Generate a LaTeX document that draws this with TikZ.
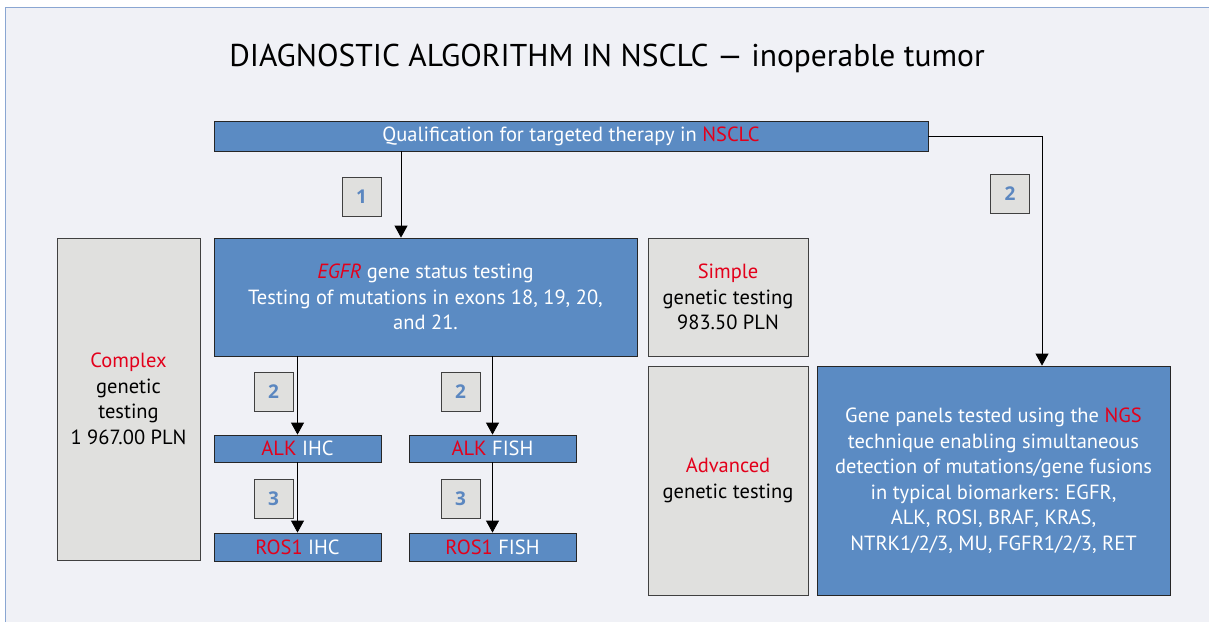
\documentclass[tikz,border=0pt]{standalone}
\usepackage{fontspec}
\setmainfont{PT Sans}
\newfontfamily\badgefont{Open Sans}
\usetikzlibrary{arrows.meta}

\definecolor{boxblue}{HTML}{5B8BC3}
\definecolor{boxgray}{HTML}{E0E0DE}
\definecolor{pagebg}{HTML}{F0F1F6}
\definecolor{framecol}{HTML}{8AA6D2}
\definecolor{hlred}{HTML}{E3001B}
\definecolor{numblue}{HTML}{5B87C0}

\newcommand{\hl}[1]{\textcolor{hlred}{#1}}

\begin{document}
\begin{tikzpicture}[%
    x=1pt, y=-1pt,
    font=\fontsize{20.5}{25.5}\selectfont,
    bluebox/.style={
      rectangle,
      draw=black!85,
      thick,
      fill=boxblue,
      text=white,
      align=center,
      inner sep=0pt
    },
    graybox/.style={
      rectangle,
      draw=black!75,
      thick,
      fill=boxgray,
      text=black,
      align=center,
      inner sep=0pt
    },
    badge/.style={
      graybox,
      minimum width=39pt,
      minimum height=39pt,
      text=numblue,
      font=\badgefont\bfseries\fontsize{19}{20}\selectfont
    },
    arr/.style={
      -{Triangle[width=13pt,length=12pt]},
      thick
    }
  ]
    \useasboundingbox (0,0) rectangle (1209,622);
    \fill[white] (0,0) rectangle (1209,622);
    \fill[pagebg] (5,7) rectangle (1209,622);
    \draw[framecol, thick] (5,622) -- (5,7) -- (1209,7);

    \draw (607,58) node (title) {\fontsize{31.5}{34}\selectfont
      DIAGNOSTIC ALGORITHM IN NSCLC --- inoperable tumor};

    \draw (571,136) node[bluebox, minimum width=714pt, minimum height=30pt] (qual)
      {Qualification for targeted therapy in \hl{NSCLC}};

    \draw (425.5,297) node[bluebox, minimum width=423pt, minimum height=118pt] (egfr)
      {\hl{\itshape EGFR} gene status testing\\
       Testing of mutations in exons 18, 19, 20,\\
       and 21.};
    \draw (728,297) node[graybox, minimum width=160pt, minimum height=118pt] (simple)
      {\hl{Simple}\\ genetic testing\\ 983.50 PLN};
    \draw (128.5,399) node[graybox, minimum width=143pt, minimum height=322pt] (complex)
      {\hl{Complex}\\ genetic\\ testing\\ 1 967.00 PLN};
    \draw (728,480.5) node[graybox, minimum width=160pt, minimum height=229pt] (advanced)
      {\hl{Advanced}\\ genetic testing};
    \draw (993.5,480.5) node[bluebox, minimum width=353pt, minimum height=229pt] (ngs)
      {Gene panels tested using the \hl{NGS}\\
       technique enabling simultaneous\\
       detection of mutations/gene fusions\\
       in typical biomarkers: EGFR,\\
       ALK, ROSI, BRAF, KRAS,\\
       NTRK1/2/3, MU, FGFR1/2/3, RET};

    \draw (297.5,448.5) node[bluebox, minimum width=167pt, minimum height=27pt] (alkihc)
      {\hl{ALK} IHC};
    \draw (492.5,448.5) node[bluebox, minimum width=167pt, minimum height=27pt] (alkfish)
      {\hl{ALK} FISH};
    \draw (297.5,547) node[bluebox, minimum width=167pt, minimum height=28pt] (rosihc)
      {\hl{ROS1} IHC};
    \draw (492.5,547) node[bluebox, minimum width=167pt, minimum height=28pt] (rosfish)
      {\hl{ROS1} FISH};

    \draw (361.5,197) node[badge] (n1) {1};
    \draw (1010,194) node[badge] (n2r) {2};
    \draw (273.5,392) node[badge] (n2a) {2};
    \draw (460.5,392) node[badge] (n2b) {2};
    \draw (273.5,498.5) node[badge] (n3a) {3};
    \draw (460.5,498.5) node[badge] (n3b) {3};

    % arrow entry points off the box centres
    \coordinate (egfrin) at ([xshift=-24.5pt]egfr.north);
    \coordinate (ngsin) at ([xshift=48.5pt]ngs.north);

    \draw[arr] (egfrin |- qual.south) -- (egfrin);
    \draw[arr] (qual.east) -| (ngsin);
    \draw[arr] (egfr.south -| alkihc.north) -- (alkihc.north);
    \draw[arr] (egfr.south -| alkfish.north) -- (alkfish.north);
    \draw[arr] (alkihc) -- (rosihc);
    \draw[arr] (alkfish) -- (rosfish);

  \end{tikzpicture}
\end{document}
